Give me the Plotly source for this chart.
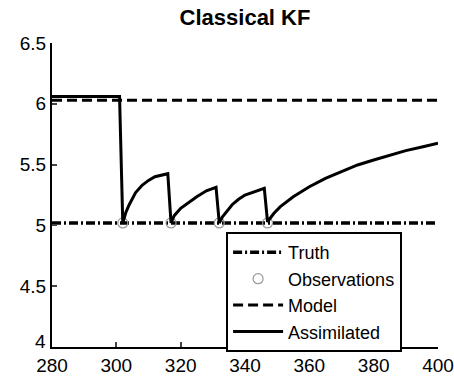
import plotly.graph_objects as go

# Data
truth_x = [280, 400]
truth_y = [5.02, 5.02]

model_x = [280, 400]
model_y = [6.03, 6.03]

obs_x = [302, 317, 332, 347]
obs_y = [5.02, 5.02, 5.02, 5.02]

asm_x = [280, 301, 302, 303, 304, 305, 306, 308, 310, 312, 314, 316,
         317, 318, 320, 322, 325, 328, 331,
         332, 333, 336, 338, 340, 343, 346,
         347, 349, 351, 355, 360, 365, 370, 375, 380, 385, 390, 395, 400]
asm_y = [6.06, 6.06, 5.02, 5.11, 5.17, 5.22, 5.27, 5.33, 5.37, 5.40, 5.415, 5.425,
         5.02, 5.08, 5.14, 5.18, 5.236, 5.285, 5.313,
         5.02, 5.07, 5.17, 5.215, 5.25, 5.28, 5.305,
         5.03, 5.10, 5.154, 5.236, 5.318, 5.387, 5.442, 5.497, 5.538, 5.575, 5.615, 5.645, 5.675]

x_ticks = [280, 300, 320, 340, 360, 380, 400]
y_ticks = [4, 4.5, 5, 5.5, 6, 6.5]
y_ticktext = ["", "4.5", "5", "5.5", "6", "6.5"]  # "4" drawn slightly raised below

FONT = "Arial, 'Liberation Sans', sans-serif"

fig = go.Figure()
fig.add_trace(go.Scatter(x=truth_x, y=truth_y, mode="lines", name="Truth",
                         line=dict(color="black", width=3.5, dash="9px,3px,2px,3px")))
fig.add_trace(go.Scatter(x=obs_x, y=obs_y, mode="markers", name="Observations",
                         marker=dict(symbol="circle-open", size=10, color="#999999",
                                     line=dict(width=1.2, color="#999999"))))
fig.add_trace(go.Scatter(x=model_x, y=model_y, mode="lines", name="Model",
                         line=dict(color="black", width=3, dash="10px,5px")))
fig.add_trace(go.Scatter(x=asm_x, y=asm_y, mode="lines", name="Assimilated",
                         line=dict(color="black", width=3)))

fig.update_layout(
    width=454, height=378,
    margin=dict(l=52, r=16, t=43, b=31, autoexpand=False),
    paper_bgcolor="white", plot_bgcolor="white",
    font=dict(family=FONT, size=19, color="black"),
    title=dict(text="<b>Classical KF</b>", x=0.5, xref="paper", xanchor="center",
               y=0.955, yanchor="middle", font=dict(size=22, family=FONT)),
    showlegend=True,
    legend=dict(x=0.451, y=0.378, xanchor="left", yanchor="top",
                bordercolor="black", borderwidth=2, bgcolor="white",
                font=dict(size=18, family=FONT), itemwidth=50,
                tracegroupgap=0),
    annotations=[dict(text="4", xref="paper", yref="y", x=0, y=y_ticks[0],
                      xanchor="right", yanchor="middle", xshift=-4, yshift=6,
                      showarrow=False, font=dict(size=19, family=FONT))],
)
fig.update_xaxes(range=[280, 400], tickvals=x_ticks, ticks="inside", ticklen=5,
                 tickwidth=2, showline=True, linewidth=2, linecolor="black",
                 showgrid=False, zeroline=False, mirror=False, automargin=False,
                 tickfont=dict(size=19, family=FONT))
fig.update_yaxes(range=[4, 6.5], tickvals=y_ticks, ticktext=y_ticktext,
                 ticks="inside", ticklen=5,
                 tickwidth=2, showline=True, linewidth=2, linecolor="black",
                 showgrid=False, zeroline=False, mirror=False, automargin=False,
                 tickfont=dict(size=19, family=FONT))

fig.write_html("out.html", config={"displayModeBar": False},
               post_script="document.body.style.margin='0';document.body.style.padding='0';")
